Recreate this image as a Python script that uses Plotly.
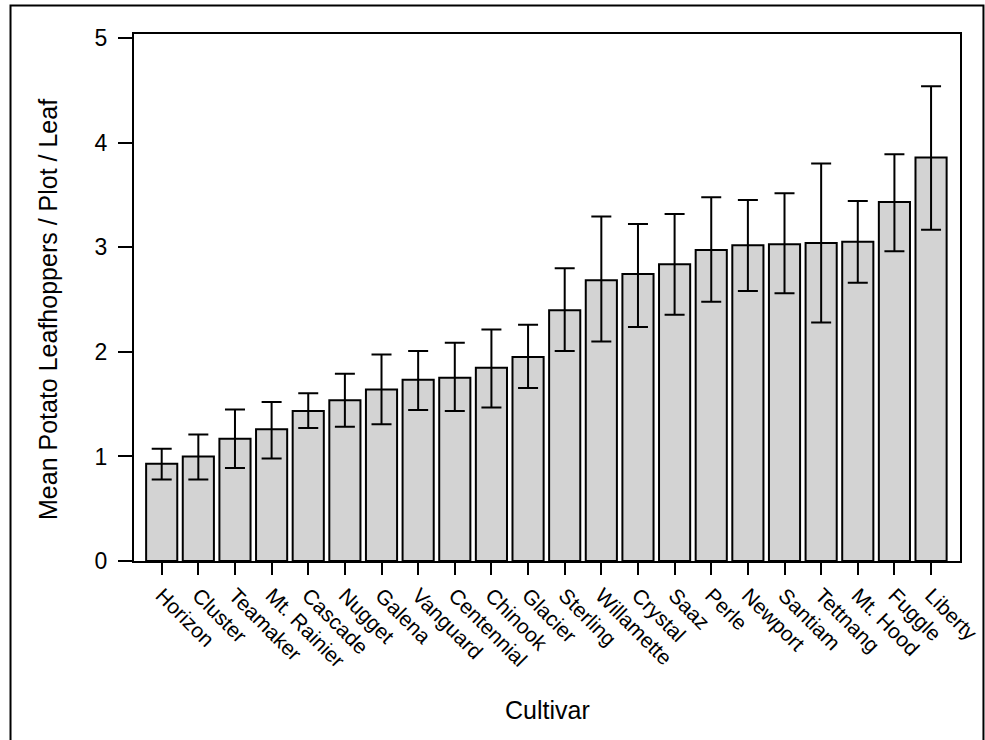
import plotly.graph_objects as go

cultivars = ["Horizon", "Cluster", "Teamaker", "Mt. Rainier", "Cascade", "Nugget",
             "Galena", "Vanguard", "Centennial", "Chinook", "Glacier", "Sterling",
             "Willamette", "Crystal", "Saaz", "Perle", "Newport", "Santiam",
             "Tettnang", "Mt. Hood", "Fuggle", "Liberty"]
means = [0.93, 1.00, 1.17, 1.26, 1.435, 1.538, 1.64, 1.734, 1.753, 1.849, 1.952,
         2.397, 2.684, 2.745, 2.837, 2.974, 3.019, 3.029, 3.041, 3.054, 3.434, 3.858]
upper = [1.074, 1.21, 1.45, 1.52, 1.605, 1.79, 1.976, 2.008, 2.088, 2.215, 2.26,
         2.80, 3.294, 3.223, 3.319, 3.478, 3.453, 3.517, 3.801, 3.443, 3.89, 4.541]
lower = [0.78, 0.78, 0.89, 0.98, 1.273, 1.284, 1.307, 1.443, 1.434, 1.469, 1.654,
         2.008, 2.10, 2.238, 2.356, 2.48, 2.582, 2.56, 2.282, 2.662, 2.962, 3.169]
y_ticks = [0, 1, 2, 3, 4, 5]
x_title = "Cultivar"
y_title = "Mean Potato Leafhoppers / Plot / Leaf"

err_plus = [u - m for u, m in zip(upper, means)]
err_minus = [m - l for m, l in zip(means, lower)]

FONT = "Liberation Sans, Arial, sans-serif"

fig = go.Figure(go.Bar(
    x=cultivars, y=means, width=0.85,
    marker=dict(color="#d3d3d3", line=dict(color="black", width=2)),
    error_y=dict(type="data", symmetric=False, array=err_plus, arrayminus=err_minus,
                 color="black", thickness=2, width=10),
))

fig.update_layout(
    width=985, height=740,
    margin=dict(l=134, r=25, t=34, b=179, autoexpand=False),
    paper_bgcolor="white", plot_bgcolor="white",
    font=dict(family=FONT, size=22, color="black"),
    showlegend=False,
    shapes=[dict(type="rect", xref="paper", yref="paper",
                 x0=-0.1495, x1=1.0284, y0=-0.40, y1=1.0541,
                 line=dict(color="black", width=2), fillcolor="rgba(0,0,0,0)", layer="below")],
    annotations=[
        dict(text=x_title, xref="paper", yref="paper", x=0.5, y=-0.2827,
             xanchor="center", yanchor="middle", showarrow=False, font=dict(size=25)),
        dict(text=y_title, xref="paper", yref="paper", x=-0.1041, y=0.4763,
             xanchor="center", yanchor="middle", textangle=-90, showarrow=False,
             font=dict(size=25)),
    ],
)

fig.update_xaxes(
    range=[-0.756, 21.79], showline=True, linecolor="black", linewidth=2, mirror=True,
    ticks="outside", ticklen=12, tickwidth=2, tickcolor="black", tickangle=45,
    tickfont=dict(size=21), showgrid=False, zeroline=False,
)
fig.update_yaxes(
    range=[0, 5.04], tickvals=y_ticks, showline=True, linecolor="black", linewidth=2,
    mirror=True, ticks="outside", ticklen=14, tickwidth=2, tickcolor="black",
    ticklabelstandoff=6, tickfont=dict(size=23), showgrid=False, zeroline=False,
)

fig.write_html("out.html")
